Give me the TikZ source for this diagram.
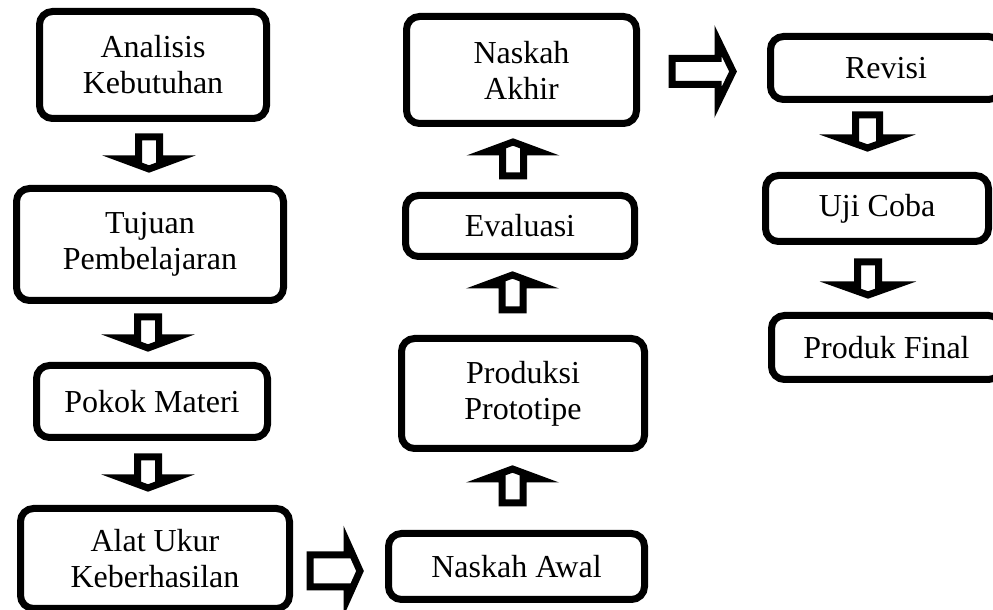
\documentclass[tikz,border=0pt]{standalone}
\usepackage{fontspec}
\setmainfont{Liberation Serif}
\usetikzlibrary{calc}
\begin{document}
\begin{tikzpicture}[x=1pt,y=1pt,
  box/.style={draw, line width=7pt, rounded corners=13pt, align=center, inner sep=0pt,
    font=\fontsize{32}{36}\selectfont},
  barrow/.style={draw, line width=7pt, line join=miter, fill=white},
  bdown/.style n args={3}{to path={let \p1=(\tikztostart),\p2=(\tikztotarget) in
     (\x1-#1,\y1) -- (\x1-#1,\y2+#3) -- (\x1-#2,\y2+#3) -- (\x1,\y2) -- (\x1+#2,\y2+#3) -- (\x1+#1,\y2+#3) -- (\x1+#1,\y1) -- cycle}},
  bup/.style n args={3}{to path={let \p1=(\tikztostart),\p2=(\tikztotarget) in
     (\x1-#1,\y1) -- (\x1-#1,\y2-#3) -- (\x1-#2,\y2-#3) -- (\x1,\y2) -- (\x1+#2,\y2-#3) -- (\x1+#1,\y2-#3) -- (\x1+#1,\y1) -- cycle}},
  bright/.style n args={3}{to path={let \p1=(\tikztostart),\p2=(\tikztotarget) in
     (\x1,\y1-#1) -- (\x2-#3,\y1-#1) -- (\x2-#3,\y1-#2) -- (\x2,\y1) -- (\x2-#3,\y1+#2) -- (\x2-#3,\y1+#1) -- (\x1,\y1+#1) -- cycle}},
]
\useasboundingbox (0,0) rectangle (993,610);
\clip (0,0) rectangle (993,610);

% left column
\node[box, minimum width=227pt, minimum height=107pt] (A) at (153,545) {Analisis\\Kebutuhan};
\node[box, minimum width=267pt, minimum height=112pt] (T) at (150,365.5) {Tujuan\\Pembelajaran};
\node[box, minimum width=231pt, minimum height=72pt] (P) at (152,208.5) {Pokok Materi};
\node[box, minimum width=269pt, minimum height=100pt] (U) at (155,51.5) {Alat Ukur\\Keberhasilan};

% middle column
\node[box, minimum width=256pt, minimum height=66pt] (NAw) at (516.5,43.5) {Naskah Awal};
\node[box, minimum width=243pt, minimum height=110pt] (PP) at (523,216.5) {Produksi\\Prototipe};
\node[box, minimum width=229pt, minimum height=61pt] (E) at (520,384) {Evaluasi};
\node[box, minimum width=230pt, minimum height=107pt] (NAk) at (521.5,540) {Naskah\\Akhir};

% right column
\node[box, minimum width=231pt, minimum height=63pt] (R) at (886,542) {Revisi};
\node[box, minimum width=223pt, minimum height=66pt] (UC) at (877,401.5) {Uji Coba};
\node[box, minimum width=230pt, minimum height=64pt] (PF) at (886.5,262.5) {Produk Final};

% block arrows
\draw[barrow, bdown={10.5pt}{27pt}{10pt}] ($(A.south)+(-4,-15)$) to ($(T.north)+(0,16)$);
\draw[barrow, bdown={10.5pt}{27pt}{10pt}] ($(T.south)+(-2,-13)$) to ($(P.north)+(0,14)$);
\draw[barrow, bdown={10.5pt}{27pt}{10pt}] ($(P.south)+(-4,-16)$) to ($(U.north)+(0,17)$);

\draw[barrow, bright={16pt}{29pt}{13pt}] ($(U.east)+(17,-12.5)$) to ($(NAw.west)+(-25,0)$);

\draw[barrow, bup={10.5pt}{27pt}{10pt}] ($(NAw.north)+(-4,27)$) to ($(PP.south)+(0,-17)$);
\draw[barrow, bup={10.5pt}{27pt}{10pt}] ($(PP.north)+(-10.5,25)$) to ($(E.south)+(0,-15)$);
\draw[barrow, bup={10.5pt}{27pt}{10pt}] ($(E.north)+(-7,16)$) to ($(NAk.south)+(0,-15)$);

\draw[barrow, bright={13pt}{31pt}{15pt}] ($(NAk.east)+(32,-1.5)$) to ($(R.west)+(-34,0)$);

\draw[barrow, bdown={12pt}{28pt}{10pt}] ($(R.south)+(-18.5,-12)$) to ($(UC.north)+(0,24)$);
\draw[barrow, bdown={10.5pt}{28pt}{10pt}] ($(UC.south)+(-9,-17)$) to ($(PF.north)+(0,17)$);
\end{tikzpicture}
\end{document}
